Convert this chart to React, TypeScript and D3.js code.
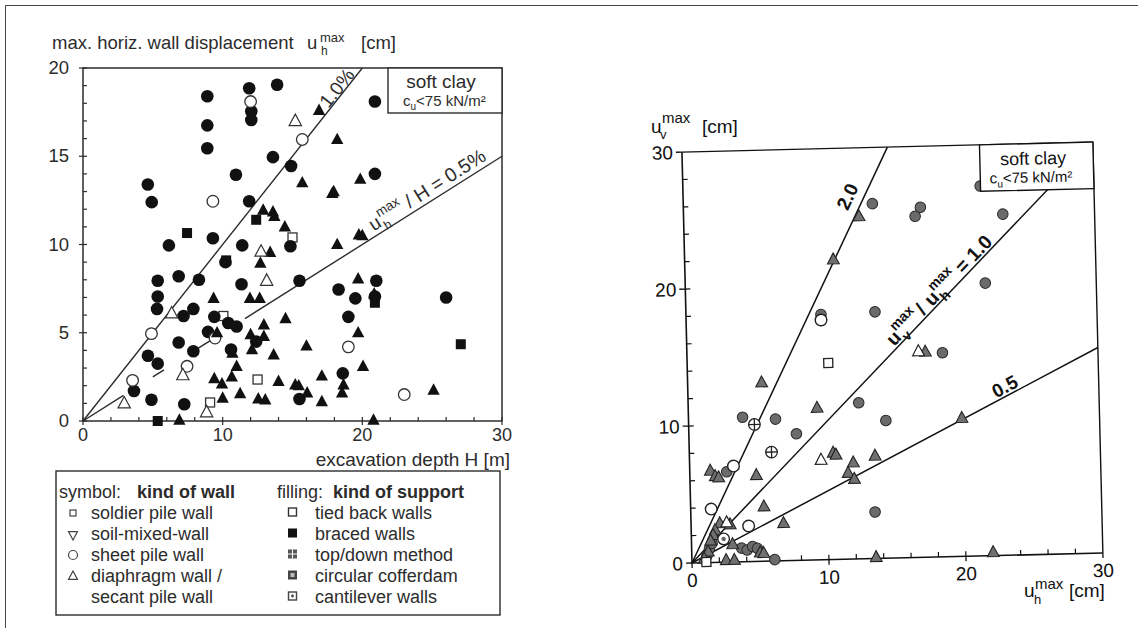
import React from "react";
import * as d3 from "d3";

type P = [number, number];

// ---------- Left panel data: excavation depth H [m] vs max horizontal wall displacement [cm]
const leftXTicks = [0, 10, 20, 30];
const leftYTicks = [0, 5, 10, 15, 20];

const leftFilledCircles: P[] = [
  [4.64, 13.4], [4.92, 12.4], [8.9, 18.4], [8.9, 16.75], [8.9, 15.45], [10.95, 13.95],
  [11.9, 18.85], [12.05, 17.55], [12.05, 17.05], [13.9, 19.05], [13.6, 14.95], [11.9, 12.45],
  [14.9, 14.45], [20.9, 18.1], [20.9, 14.0], [6.15, 9.95], [9.3, 10.35], [11.4, 9.95],
  [14.85, 9.9], [10.2, 9.0], [5.35, 7.95], [5.35, 7.05], [5.3, 6.35], [6.85, 8.2], [8.3, 8.0],
  [11.35, 7.75], [15.5, 7.95], [7.2, 5.95], [7.9, 6.35], [9.4, 5.9], [10.4, 5.55], [11.0, 5.35],
  [8.95, 5.05], [12.4, 4.5], [6.85, 4.45], [7.9, 3.95], [4.65, 3.7], [5.35, 3.25], [3.65, 1.7],
  [4.9, 1.2], [7.25, 0.95], [15.5, 1.25], [18.3, 7.45], [21.0, 7.95], [19.5, 6.95], [20.9, 7.05],
  [26.0, 7.0], [19.0, 5.9], [18.6, 2.7], [10.6, 4.05],
];
const leftOpenCircles: P[] = [
  [9.3, 12.45], [12.0, 18.1], [15.7, 15.95], [4.9, 4.95], [9.45, 4.7], [7.45, 3.1],
  [3.55, 2.3], [19.0, 4.2], [23.0, 1.5],
];
const leftFilledTriangles: P[] = [
  [15.7, 13.5], [16.9, 17.6], [18.2, 15.95], [17.85, 12.9], [17.95, 13.0], [19.85, 13.7],
  [12.9, 11.95], [13.6, 11.85], [13.7, 11.6], [14.45, 11.0], [18.2, 10.0], [19.75, 10.55],
  [20.0, 10.5], [12.7, 8.95], [13.4, 9.55], [9.35, 6.95], [11.95, 6.95], [12.65, 6.95],
  [14.5, 5.8], [12.0, 4.9], [12.95, 4.8], [12.95, 5.45], [12.1, 4.05], [13.65, 3.75],
  [16.0, 4.25], [10.7, 3.85], [11.0, 3.1], [9.4, 2.4], [9.95, 2.1], [10.65, 2.5], [14.0, 2.25],
  [15.2, 2.05], [15.45, 2.0], [16.05, 1.6], [11.25, 1.55], [12.55, 1.25], [13.05, 1.2],
  [10.0, 1.3], [6.9, 0.05], [19.7, 8.05], [20.85, 7.2], [19.7, 5.0], [20.05, 3.1], [17.1, 2.55],
  [18.65, 2.05], [18.55, 1.6], [17.1, 1.1], [25.1, 1.75], [20.8, 0.05], [9.6, 5.0],
];
const leftOpenTriangles: P[] = [
  [15.2, 17.0], [12.75, 9.6], [13.15, 7.95], [6.35, 6.1], [7.15, 2.6], [8.85, 0.5], [2.95, 1.0],
];
const leftFilledSquares: P[] = [
  [12.4, 11.4], [7.45, 10.65], [5.35, 0], [27.05, 4.35], [20.9, 6.7], [10.25, 9.1],
];
const leftOpenSquares: P[] = [
  [15.0, 10.4], [12.5, 2.35], [9.1, 1.05], [10.05, 5.95],
];
// ratio lines u_h/H (cm per m): 1.0 % and 0.5 %
const leftLine10: P[] = [[0, 0], [20, 20]];
const leftLine05Segments: P[][] = [
  [[0, 0], [2.9, 1.45]],
  [[5.0, 2.5], [5.8, 2.9]],
  [[7.6, 3.8], [9.2, 4.6]],
  [[11.6, 5.8], [30, 15]],
];

const legendWalls = ["soldier pile wall", "soil-mixed-wall", "sheet pile wall", "diaphragm wall /", "secant pile wall"];
const legendSupports = ["tied back walls", "braced walls", "top/down method", "circular cofferdam", "cantilever walls"];

// ---------- Right panel data: u_h^max [cm] vs u_v^max [cm]
const rightTicks = [0, 10, 20, 30];
const rightGrayCircles: P[] = [
  [13.8, 25.9], [17.3, 25.55], [16.9, 24.9], [23.3, 24.9], [21.7, 27.0], [21.9, 19.9],
  [9.85, 17.9], [13.8, 18.0], [18.65, 14.9], [14.4, 10.05], [13.45, 3.4], [12.45, 11.4],
  [3.95, 10.55], [6.35, 10.35], [7.85, 9.25], [2.7, 6.6], [3.65, 1.0], [4.05, 0.85],
  [4.45, 1.1], [4.8, 0.95], [6.05, 0.1], [1.3, 1.0], [1.1, 0.5], [1.5, 1.4],
];
const rightGrayTriangles: P[] = [
  [12.8, 25.0], [10.85, 21.9], [17.4, 15.0], [19.95, 10.1], [13.55, 7.5], [5.4, 13.05],
  [9.4, 11.1], [10.5, 7.8], [10.7, 7.65], [11.95, 7.05], [11.55, 6.3], [12.0, 5.85],
  [1.5, 6.7], [1.85, 6.3], [2.1, 6.2], [4.85, 6.3], [5.35, 4.0], [6.75, 2.75], [2.1, 2.85],
  [2.85, 2.75], [1.75, 2.35], [1.6, 2.0], [3.0, 1.3], [5.0, 0.65], [5.25, 0.6], [1.2, 0.8],
  [0.9, 0.3], [1.4, 1.6], [2.5, 0.15], [3.1, 0.15], [22.0, 0.25], [13.45, 0.1],
];
const rightOpenTriangles: P[] = [[16.9, 15.05], [9.6, 7.3], [2.6, 2.9]];
const rightOpenCircles: P[] = [[9.85, 17.5], [3.2, 7.0], [1.5, 3.9], [4.2, 2.6]];
const rightCirclePlus: P[] = [[4.8, 10.0], [6.0, 7.95]];
const rightCircleDot: P[] = [[2.35, 1.7]];
const rightOpenSquares: P[] = [[10.3, 14.35], [1.05, 0.05]];
const rightRatioLines: P[][] = [
  [[0, 0], [15, 30]],
  [[0, 0], [28, 28]],
  [[0, 0], [30, 15]],
];

const FONT = "'Liberation Sans', Arial, Helvetica, sans-serif";
const LT = "#2c2c2c"; // left (scanned) ink
const RT = "#111";

const triPath = (s: number, down = false) => {
  const t = down ? 1 : -1;
  return `M0,${t * s * 0.62}L${s * 0.56},${-t * s * 0.42}L${-s * 0.56},${-t * s * 0.42}Z`;
};

export default function App() {
  const xL = d3.scaleLinear().domain([0, 30]).range([83, 502]);
  const yL = d3.scaleLinear().domain([0, 20]).range([421, 68]);
  const xR = d3.scaleLinear().domain([0, 30]).range([0, 411]);
  const yR = d3.scaleLinear().domain([0, 30]).range([0, -411]);
  const lineL = d3.line<P>().x((d) => xL(d[0])).y((d) => yL(d[1]));
  const lineR = d3.line<P>().x((d) => xR(d[0])).y((d) => yR(d[1]));

  const angL10 = (Math.atan2(yL(0) - yL(1), xL(1) - xL(0)) * 180) / Math.PI;
  const angL05 = (Math.atan2(yL(0) - yL(0.5), xL(1) - xL(0)) * 180) / Math.PI;

  const leftMinorY = d3.range(0, 21, 1);
  const leftMinorX = d3.range(0, 31, 2);
  const rightMinor = d3.range(2, 30, 2);

  const legendRowY = (i: number) => 519 + i * 21;

  return (
    <svg
      width={1138}
      height={628}
      style={{ position: "absolute", left: 0, top: 0, background: "#fff" }}
      fontFamily={FONT}
    >
      <rect x={0} y={0} width={1138} height={628} fill="#fff" />
      {/* outer frame (partial) */}
      <line x1={5.5} y1={5.5} x2={1138} y2={5.5} stroke="#444" strokeWidth={1} />
      <line x1={5.5} y1={5.5} x2={5.5} y2={628} stroke="#444" strokeWidth={1} />

      {/* ================= LEFT PANEL ================= */}
      <g fill={LT}>
        <text x={52} y={49} fontSize={18.5}>max. horiz. wall displacement</text>
        <text x={307} y={49} fontSize={18.5}>u</text>
        <text x={320} y={42} fontSize={13}>max</text>
        <text x={321} y={55} fontSize={12}>h</text>
        <text x={361} y={49} fontSize={18.5}>[cm]</text>
      </g>
      <rect x={xL(0)} y={yL(20)} width={xL(30) - xL(0)} height={yL(0) - yL(20)} fill="none" stroke={LT} strokeWidth={1.5} />
      {leftMinorY.map((v) => (
        <line key={"ly" + v} x1={xL(0)} x2={xL(0) + 4} y1={yL(v)} y2={yL(v)} stroke={LT} strokeWidth={1.2} />
      ))}
      {leftYTicks.map((v) => (
        <g key={"lyt" + v}>
          <line x1={xL(0) - 4} x2={xL(0)} y1={yL(v)} y2={yL(v)} stroke={LT} strokeWidth={1.2} />
          <text x={69} y={yL(v) + 6} fontSize={18.5} textAnchor="end" fill={LT}>{v}</text>
        </g>
      ))}
      {leftMinorX.map((v) => (
        <line key={"lx" + v} x1={xL(v)} x2={xL(v)} y1={yL(0)} y2={yL(0) - 4} stroke={LT} strokeWidth={1.2} />
      ))}
      {leftXTicks.map((v) => (
        <g key={"lxt" + v}>
          <line x1={xL(v)} x2={xL(v)} y1={yL(0)} y2={yL(0) + 4} stroke={LT} strokeWidth={1.2} />
          <text x={xL(v)} y={yL(0) + 20} fontSize={18} textAnchor="middle" fill={LT}>{v}</text>
        </g>
      ))}
      <text x={510} y={466} fontSize={19} textAnchor="end" fill={LT}>excavation depth  H [m]</text>

      {/* ratio lines */}
      <path d={lineL(leftLine10) || ""} stroke={LT} strokeWidth={1.4} fill="none" />
      {leftLine05Segments.map((s, i) => (
        <path key={"l05" + i} d={lineL(s) || ""} stroke={LT} strokeWidth={1.4} fill="none" />
      ))}

      {/* markers */}
      {leftFilledSquares.map((d, i) => (
        <rect key={"lfs" + i} x={xL(d[0]) - 5} y={yL(d[1]) - 5} width={10} height={10} fill="#111" />
      ))}
      {leftOpenSquares.map((d, i) => (
        <rect key={"los" + i} x={xL(d[0]) - 4.5} y={yL(d[1]) - 4.5} width={9} height={9} fill="#fff" stroke="#333" strokeWidth={1.3} />
      ))}
      {leftFilledCircles.map((d, i) => (
        <circle key={"lfc" + i} cx={xL(d[0])} cy={yL(d[1])} r={6.3} fill="#111" />
      ))}
      {leftOpenCircles.map((d, i) => (
        <circle key={"loc" + i} cx={xL(d[0])} cy={yL(d[1])} r={5.8} fill="#fff" stroke="#333" strokeWidth={1.3} />
      ))}
      {leftFilledTriangles.map((d, i) => (
        <path key={"lft" + i} transform={`translate(${xL(d[0])},${yL(d[1])})`} d={triPath(11)} fill="#111" />
      ))}
      {leftOpenTriangles.map((d, i) => (
        <path key={"lot" + i} transform={`translate(${xL(d[0])},${yL(d[1])})`} d={triPath(11)} fill="#fff" stroke="#333" strokeWidth={1.2} />
      ))}

      {/* line labels */}
      <g transform={`translate(${xL(18.6)},${yL(18.6)}) rotate(${-angL10})`}>
        <text x={0} y={-1} fontSize={19} textAnchor="middle" fill={LT}>1.0%</text>
      </g>
      <g transform={`translate(${xL(21.0)},${yL(10.5)}) rotate(${-angL05})`} fill={LT}>
        <text x={0} y={-5} fontSize={19}>u</text>
        <text x={12} y={-14} fontSize={13.5}>max</text>
        <text x={12} y={1} fontSize={12.5}>h</text>
        <text x={43} y={-5} fontSize={19.5}>/ H = 0.5%</text>
      </g>

      {/* soft clay box */}
      <rect x={388} y={yL(20)} width={xL(30) - 388} height={45} fill="#fff" stroke={LT} strokeWidth={1.4} />
      <text x={441} y={88} fontSize={19} textAnchor="middle" fill={LT}>soft clay</text>
      <text x={403} y={106} fontSize={15} fill={LT}>
        c<tspan fontSize={10} dy={4}>u</tspan>
        <tspan dy={-4}>&lt;75 kN/m²</tspan>
      </text>

      {/* legend */}
      <rect x={56} y={471} width={444} height={144} fill="#fff" stroke={LT} strokeWidth={1.4} />
      <g fill={LT} fontSize={18}>
        <text x={59} y={498}>symbol:</text>
        <text x={137} y={498} fontWeight="bold">kind of wall</text>
        <text x={277} y={498}>filling:</text>
        <text x={333} y={498} fontWeight="bold">kind of support</text>
        {legendWalls.map((t, i) => (
          <text key={"lw" + i} x={91} y={legendRowY(i)}>{t}</text>
        ))}
        {legendSupports.map((t, i) => (
          <text key={"ls" + i} x={315} y={legendRowY(i)}>{t}</text>
        ))}
      </g>
      {/* legend symbols: kinds of wall */}
      <g stroke="#444" strokeWidth={1.2} fill="#fff">
        <rect x={70} y={legendRowY(0) - 9} width={6} height={6} />
        <path transform={`translate(73,${legendRowY(1) - 5})`} d={triPath(8, true)} />
        <circle cx={73} cy={legendRowY(2) - 6} r={4.5} />
        <path transform={`translate(73,${legendRowY(3) - 6})`} d={triPath(8)} />
      </g>
      {/* legend symbols: kinds of support */}
      <g>
        <rect x={288.5} y={legendRowY(0) - 11} width={8} height={8} fill="#fff" stroke="#333" strokeWidth={1.4} />
        <rect x={288} y={legendRowY(1) - 11.5} width={9} height={9} fill="#111" />
        <rect x={288} y={legendRowY(2) - 11.5} width={9} height={9} fill="#555" />
        <line x1={292.5} x2={292.5} y1={legendRowY(2) - 11.5} y2={legendRowY(2) - 2.5} stroke="#fff" strokeWidth={1} />
        <line x1={288} x2={297} y1={legendRowY(2) - 7} y2={legendRowY(2) - 7} stroke="#fff" strokeWidth={1} />
        <rect x={288} y={legendRowY(3) - 11.5} width={9} height={9} fill="#444" />
        <rect x={290.5} y={legendRowY(3) - 9} width={4} height={4} fill="#bbb" />
        <rect x={288.5} y={legendRowY(4) - 11} width={8} height={8} fill="#fff" stroke="#444" strokeWidth={1.4} />
        <circle cx={292.5} cy={legendRowY(4) - 7} r={1.4} fill="#444" />
      </g>

      {/* ================= RIGHT PANEL ================= */}
      <g fill={RT}>
        <text x={651} y={133} fontSize={19}>u</text>
        <text x={662} y={123} fontSize={15}>max</text>
        <text x={660} y={139} fontSize={13}>v</text>
        <text x={702} y={133} fontSize={19}>[cm]</text>
      </g>
      <g fill={RT}>
        <text x={1024} y={597} fontSize={19}>u</text>
        <text x={1035} y={589} fontSize={15}>max</text>
        <text x={1034} y={604} fontSize={13}>h</text>
        <text x={1069} y={597} fontSize={19}>[cm]</text>
      </g>

      <g transform="translate(692,563) rotate(-1.4)">
        {/* frame */}
        <line x1={xR(0)} y1={yR(0)} x2={xR(30)} y2={yR(0)} stroke={RT} strokeWidth={1.6} />
        <line x1={xR(0)} y1={yR(0)} x2={xR(0)} y2={yR(30)} stroke={RT} strokeWidth={1.6} />
        <line x1={xR(0)} y1={yR(30)} x2={xR(30)} y2={yR(30)} stroke={RT} strokeWidth={1.4} />
        <line x1={xR(30)} y1={yR(0)} x2={xR(30)} y2={yR(30)} stroke={RT} strokeWidth={1.4} />
        {rightMinor.map((v) => (
          <g key={"rm" + v}>
            <line x1={xR(0)} x2={xR(0) + 5} y1={yR(v)} y2={yR(v)} stroke={RT} strokeWidth={1.2} />
            <line x1={xR(v)} x2={xR(v)} y1={yR(0)} y2={yR(0) - 5} stroke={RT} strokeWidth={1.2} />
          </g>
        ))}
        {rightTicks.map((v) => (
          <g key={"rt" + v}>
            <line x1={xR(0) - 6} x2={xR(0)} y1={yR(v)} y2={yR(v)} stroke={RT} strokeWidth={1.3} />
            <line x1={xR(v)} x2={xR(v)} y1={yR(0)} y2={yR(0) + 5} stroke={RT} strokeWidth={1.3} />
            <text x={-9} y={yR(v) + 7} fontSize={19} textAnchor="end" fill={RT}>{v}</text>
            <text x={xR(v)} y={24} fontSize={19} textAnchor="middle" fill={RT}>{v}</text>
          </g>
        ))}

        {/* ratio lines */}
        {rightRatioLines.map((s, i) => (
          <path key={"rl" + i} d={lineR(s) || ""} stroke={RT} strokeWidth={1.5} fill="none" />
        ))}

        {/* markers */}
        {rightGrayCircles.map((d, i) => (
          <circle key={"rgc" + i} cx={xR(d[0])} cy={yR(d[1])} r={5.3} fill="#6b6b6b" stroke="#2a2a2a" strokeWidth={1} />
        ))}
        {rightGrayTriangles.map((d, i) => (
          <path key={"rgt" + i} transform={`translate(${xR(d[0])},${yR(d[1])})`} d={triPath(10.5)} fill="#707070" stroke="#222" strokeWidth={1.1} />
        ))}
        {rightOpenTriangles.map((d, i) => (
          <path key={"rot" + i} transform={`translate(${xR(d[0])},${yR(d[1])})`} d={triPath(10.5)} fill="#fff" stroke="#222" strokeWidth={1.2} />
        ))}
        {rightOpenCircles.map((d, i) => (
          <circle key={"roc" + i} cx={xR(d[0])} cy={yR(d[1])} r={5.8} fill="#fff" stroke="#222" strokeWidth={1.4} />
        ))}
        {rightCirclePlus.map((d, i) => (
          <g key={"rcp" + i} transform={`translate(${xR(d[0])},${yR(d[1])})`} stroke="#222" strokeWidth={1.3}>
            <circle r={5.8} fill="#fff" />
            <line x1={-5.8} x2={5.8} y1={0} y2={0} />
            <line x1={0} x2={0} y1={-5.8} y2={5.8} />
          </g>
        ))}
        {rightCircleDot.map((d, i) => (
          <g key={"rcd" + i} transform={`translate(${xR(d[0])},${yR(d[1])})`}>
            <circle r={5.8} fill="#fff" stroke="#222" strokeWidth={1.4} />
            <circle r={2.2} fill="#666" />
          </g>
        ))}
        {rightOpenSquares.map((d, i) => (
          <rect key={"ros" + i} x={xR(d[0]) - 4.5} y={yR(d[1]) - 4.5} width={9} height={9} fill="#fff" stroke="#222" strokeWidth={1.3} />
        ))}

        {/* line labels */}
        <g transform={`translate(${xR(12.04)},${yR(26.44)}) rotate(-63.43)`}>
          <text x={0} y={6} fontSize={19} fontWeight="bold" textAnchor="middle" fill={RT}>2.0</text>
        </g>
        <g transform={`translate(${xR(18.96)},${yR(19.84)}) rotate(-45)`} fill={RT} fontWeight="bold">
          <text x={-80} y={6} fontSize={19.5}>u</text>
          <text x={-68} y={-4} fontSize={14}>max</text>
          <text x={-67} y={12} fontSize={14}>v</text>
          <text x={-37} y={6} fontSize={19.5}>/</text>
          <text x={-25} y={6} fontSize={19.5}>u</text>
          <text x={-13} y={-4} fontSize={14}>max</text>
          <text x={-12} y={12} fontSize={14}>h</text>
          <text x={20} y={6} fontSize={19.5}>= 1.0</text>
        </g>
        <g transform={`translate(${xR(23.16)},${yR(12.29)}) rotate(-26.57)`}>
          <text x={0} y={6} fontSize={19} fontWeight="bold" textAnchor="middle" fill={RT}>0.5</text>
        </g>

        {/* soft clay box */}
        <rect x={297.6} y={yR(30)} width={xR(30) - 297.6} height={46.5} fill="#fff" stroke={RT} strokeWidth={1.4} />
        <text x={351} y={-390} fontSize={18} textAnchor="middle" fill={RT}>soft clay</text>
        <text x={307} y={-372} fontSize={15} fill={RT}>
          c<tspan fontSize={10} dy={4}>u</tspan>
          <tspan dy={-4}>&lt;75 kN/m²</tspan>
        </text>
      </g>
    </svg>
  );
}
